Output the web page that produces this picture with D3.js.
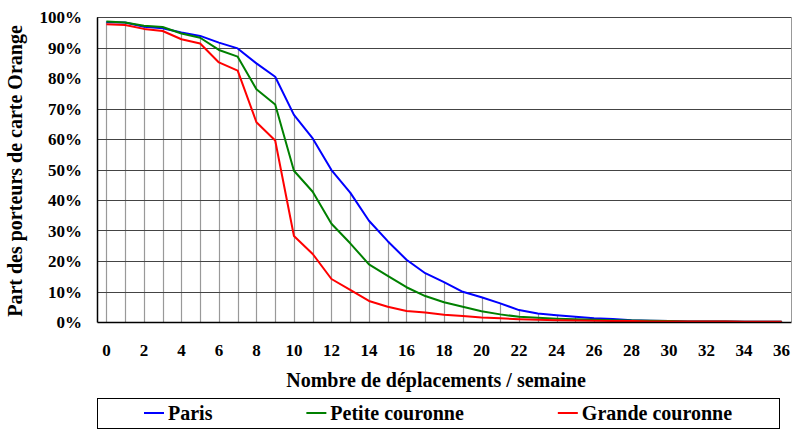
<!DOCTYPE html>
<html>
<head>
<meta charset="utf-8">
<script src="https://cdn.jsdelivr.net/npm/d3@7"></script>
<style>
  body { margin: 0; background: #fff; }
  text { font-family: "Liberation Serif", "Times New Roman", serif; font-weight: bold; fill: #000; }
</style>
</head>
<body>
<svg id="chart" width="792" height="432"></svg>
<script>
"use strict";

// data
const trips = [0, 1, 2, 3, 4, 5, 6, 7, 8, 9, 10, 11, 12, 13, 14, 15, 16, 17, 18,
  19, 20, 21, 22, 23, 24, 25, 26, 27, 28, 29, 30, 31, 32, 33, 34, 35, 36];
const paris = [98.3, 98.2, 96.8, 96.3, 94.9, 93.8, 91.6, 89.7, 84.8, 80.4, 67.9, 60.2,
  49.8, 42.4, 33.2, 26.5, 20.4, 16.0, 13.1, 9.9, 8.1, 6.1, 3.9, 2.8, 2.2, 1.7, 1.2,
  1.0, 0.6, 0.4, 0.3, 0.2, 0.2, 0.15, 0.1, 0.1, 0.1];
const petite = [98.5, 98.2, 97.1, 96.7, 94.6, 93.2, 89.2, 87.0, 76.3, 71.3, 49.6, 42.7,
  32.2, 25.8, 18.9, 15.1, 11.4, 8.5, 6.5, 5.0, 3.5, 2.5, 1.7, 1.4, 1.1, 0.9, 0.7,
  0.6, 0.5, 0.4, 0.3, 0.2, 0.2, 0.15, 0.1, 0.1, 0.1];
const grande = [97.6, 97.4, 96.1, 95.4, 92.7, 91.3, 85.1, 82.4, 65.5, 59.5, 28.2, 22.3,
  14.1, 10.5, 6.9, 5.0, 3.6, 3.1, 2.4, 2.0, 1.5, 1.2, 0.9, 0.7, 0.6, 0.5, 0.4,
  0.35, 0.3, 0.2, 0.2, 0.2, 0.15, 0.15, 0.1, 0.1, 0.1];
const yTicks = [0, 10, 20, 30, 40, 50, 60, 70, 80, 90, 100];

const seriesList = [
  { name: "Paris", values: paris, color: "#0000ff" },
  { name: "Petite couronne", values: petite, color: "#008000" },
  { name: "Grande couronne", values: grande, color: "#ff0000" },
];

const svg = d3.select("#chart");

const plot = { left: 97, right: 791, top: 17, bottom: 322 };

const x = d3.scaleBand()
  .domain(trips)
  .range([plot.left, plot.right])
  .padding(0);
const xc = (d) => x(d) + x.bandwidth() / 2;

const y = d3.scaleLinear()
  .domain([0, 100])
  .range([plot.bottom, plot.top]);

// drop lines from the highest curve down to the axis
const topVal = trips.map((t, i) => d3.max(seriesList, (s) => s.values[i]));
svg.append("g")
  .selectAll("line")
  .data(trips)
  .join("line")
  .attr("x1", (d) => Math.round(xc(d)) + 0.5)
  .attr("x2", (d) => Math.round(xc(d)) + 0.5)
  .attr("y1", plot.bottom)
  .attr("y2", (d, i) => y(topVal[i]))
  .attr("stroke", "#999")
  .attr("stroke-width", 1.2);

// horizontal gridlines
svg.append("g")
  .selectAll("line")
  .data(yTicks.slice(1))
  .join("line")
  .attr("x1", plot.left)
  .attr("x2", plot.right)
  .attr("y1", (d) => Math.round(y(d)) + 0.5)
  .attr("y2", (d) => Math.round(y(d)) + 0.5)
  .attr("stroke", "#444")
  .attr("stroke-width", 1.2);

// right border
svg.append("line")
  .attr("x1", plot.right + 0.5).attr("x2", plot.right + 0.5)
  .attr("y1", plot.top).attr("y2", plot.bottom)
  .attr("stroke", "#999");

// curves
const line = d3.line()
  .x((d, i) => xc(trips[i]))
  .y((d) => y(d));

svg.append("g")
  .selectAll("path")
  .data(seriesList)
  .join("path")
  .attr("d", (s) => line(s.values))
  .attr("fill", "none")
  .attr("stroke", (s) => s.color)
  .attr("stroke-width", 2)
  .attr("stroke-linejoin", "round");

// Y axis
const yAxis = svg.append("g")
  .attr("transform", `translate(${plot.left},0)`)
  .call(d3.axisLeft(y).tickValues(yTicks).tickSize(0).tickPadding(15)
    .tickFormat((d) => d + "%"));
yAxis.select(".domain").attr("stroke", "#000").attr("stroke-width", 1.5);
yAxis.selectAll("text")
  .style("font-size", "17px")
  .style("font-family", "Liberation Serif")
  .style("font-weight", "bold")
  .attr("dy", "0.35em");

// X axis
const xAxis = svg.append("g")
  .attr("transform", `translate(0,${plot.bottom})`)
  .call(d3.axisBottom(x).tickValues(trips.filter((d) => d % 2 === 0)).tickSize(0).tickPadding(22));
xAxis.select(".domain").attr("stroke", "#000").attr("stroke-width", 1.5);
xAxis.selectAll("text")
  .style("font-size", "17px")
  .style("font-family", "Liberation Serif")
  .style("font-weight", "bold");

// axis titles
svg.append("text")
  .attr("x", 436)
  .attr("y", 387)
  .attr("text-anchor", "middle")
  .style("font-size", "20px")
  .text("Nombre de déplacements / semaine");

svg.append("text")
  .attr("transform", "translate(22,171) rotate(-90)")
  .attr("text-anchor", "middle")
  .style("font-size", "20px")
  .text("Part des porteurs de carte Orange");

// legend
const box = { x: 97, y: 398, w: 682, h: 30 };
const legend = svg.append("g");
legend.append("rect")
  .attr("x", box.x + 0.5).attr("y", box.y + 0.5)
  .attr("width", box.w).attr("height", box.h)
  .attr("fill", "#fff").attr("stroke", "#000");

const dashLen = 20, dashGap = 4;
const items = legend.selectAll("g.item")
  .data(seriesList)
  .join("g")
  .attr("class", "item");
items.append("line")
  .attr("x1", 0).attr("x2", dashLen)
  .attr("stroke", (d) => d.color)
  .attr("stroke-width", 2);
items.append("text")
  .attr("x", dashLen + dashGap)
  .attr("dy", "0.35em")
  .style("font-size", "20px")
  .text((d) => d.name);

// spread the items evenly across the box
const widths = [];
items.each(function () {
  widths.push(dashLen + dashGap + d3.select(this).select("text").node().getComputedTextLength());
});
const gap = (box.w - d3.sum(widths)) / 3;
let cursor = box.x + gap / 2;
items.attr("transform", (d, i) => {
  const tx = cursor;
  cursor += widths[i] + gap;
  return `translate(${tx},${box.y + box.h / 2})`;
});
</script>
</body>
</html>
